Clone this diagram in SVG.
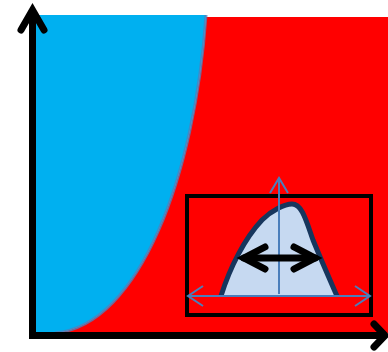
<svg xmlns="http://www.w3.org/2000/svg" width="388" height="352" viewBox="0 0 388 352">
<style>
.axis{stroke:#000;stroke-width:7;fill:none}
.head{stroke:#000;stroke-width:7;fill:none;stroke-linecap:round;stroke-linejoin:miter}
.thin{stroke:#4a7ebb;stroke-width:2;fill:none}
</style>
<rect width="388" height="352" fill="#fff"/>
<g id="regions">
<path id="red" d="M55,333 C140,325 195,175 206,17 L388,17 L388,333 Z" fill="#ff0000"/>
<path id="blue" d="M36,15 L206,15 C195,175 140,325 55,333 L36,333 Z" fill="#00b0f0"/>
<path id="boundary" d="M55,333 C140,325 195,175 206,15" fill="none" stroke="#4f81bd" stroke-width="3" stroke-opacity="0.8"/>
</g>
<g id="frame">
<rect x="187" y="196" width="184" height="119" fill="none" stroke="#000" stroke-width="4"/>
</g>
<g id="peak">
<path d="M221,296 C230,267 245,238 262,220 C272,210 285,204 292,204 C302,204 306,220 313,240 C322,262 330,280 337,296 Z" fill="#c6d9f1"/>
<path d="M221,296 C230,267 245,238 262,220 C272,210 285,204 292,204 C302,204 306,220 313,240 C322,262 330,280 337,296" fill="none" stroke="#17365d" stroke-width="5" stroke-linejoin="round"/>
</g>
<g id="connectors">
<line class="thin" x1="279" y1="294" x2="279" y2="178"/>
<polyline class="thin" points="270,193 279,178 288,193"/>
<line class="thin" x1="188" y1="296" x2="370" y2="296"/>
<polyline class="thin" points="203,286 188,296 203,306"/>
<polyline class="thin" points="355,286 370,296 355,306"/>
<line x1="244" y1="258" x2="315" y2="258" stroke="#000" stroke-width="7" stroke-linecap="round"/>
<polyline class="head" points="265,247 244,258 265,269"/>
<polyline class="head" points="294,247 315,258 294,269"/>
<line class="axis" x1="32.5" y1="10" x2="32.5" y2="335"/>
<line class="axis" x1="29" y1="335.5" x2="384" y2="335.5"/>
<polyline class="head" points="21,30 32.5,10 44,30"/>
<polyline class="head" points="374,324 385,335.5 374,347"/>
</g>
</svg>
